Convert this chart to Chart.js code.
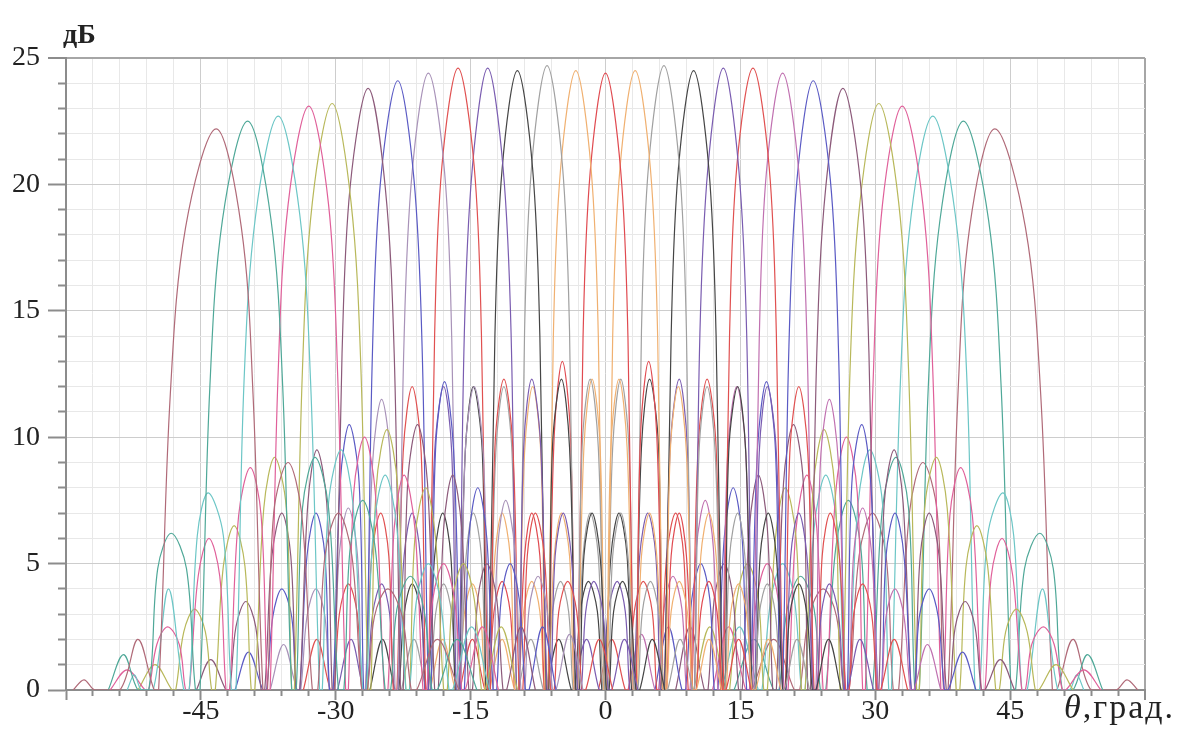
<!DOCTYPE html>
<html>
<head>
<meta charset="utf-8">
<script src="https://cdn.jsdelivr.net/npm/chart.js@4.4.1/dist/chart.umd.min.js"></script>
<style>
    html, body { margin: 0; padding: 0; background: #fff; }
    #wrap { position: relative; width: 1193px; height: 738px; }
    #graf { position: absolute; left: 0; top: 0; }
    .lbl { position: absolute; font-family: 'Liberation Serif', serif; color: #222; white-space: nowrap; }
</style>
</head>
<body>
<div id="wrap">
    <canvas id="graf" width="1193" height="738"></canvas>
    <div class="lbl" style="left:63px; top:18px; font-size:28px; font-weight:bold;">дБ</div>
    <div class="lbl" style="left:1064px; top:688px; font-size:34px; letter-spacing:2px;"><i>θ</i>,град.</div>
</div>
<script>
// diagram usmerjenosti - 27 zarkov, tocke [theta (grad), dB]
var beam01 = [[-59.2,0],[-58.0,0.4],[-56.8,0],[-54.0,0],[-52.0,2.0],[-50.2,0],[-49.7,0],[-48.4,11.7],[-46.7,18.3],[-43.3,22.2],[-40.5,18.3],[-39.2,11.7],[-38.1,0],[-37.6,0],[-36.9,7.0],[-35.3,9.0],[-33.8,7.0],[-32.6,0],[-32.0,0],[-31.2,5.3],[-29.7,7.0],[-28.2,5.3],[-27.1,0],[-26.5,0],[-25.7,2.9],[-24.2,4.0],[-22.6,2.9],[-21.6,0],[-21.0,0],[-18.7,2.0],[-16.3,0]];
var beam02 = [[-55.3,0],[-53.6,1.4],[-52.0,0],[-50.8,0],[-49.8,4.8],[-48.3,6.2],[-46.6,4.8],[-45.6,0],[-45.1,0],[-44.0,12.0],[-42.6,18.6],[-39.8,22.5],[-37.2,18.6],[-35.9,12.0],[-34.9,0],[-34.4,0],[-33.7,7.2],[-32.3,9.2],[-30.8,7.2],[-29.7,0],[-29.1,0],[-28.4,5.6],[-27.0,7.5],[-25.6,5.6],[-24.5,0],[-23.9,0],[-23.2,3.2],[-21.7,4.5],[-20.2,3.2],[-19.3,0],[-18.7,0],[-16.5,2.0],[-14.3,0]];
var beam03 = [[-53.2,0],[-52.4,0.6],[-51.6,0],[-50.3,0],[-48.6,4.0],[-46.9,0],[-46.3,0],[-45.4,6.1],[-44.2,7.8],[-42.5,6.1],[-41.6,0],[-41.1,0],[-40.2,12.2],[-38.9,18.8],[-36.4,22.7],[-34.0,18.8],[-32.8,12.2],[-31.8,0],[-31.5,0],[-30.8,7.4],[-29.4,9.5],[-28.1,7.4],[-27.0,0],[-26.6,0],[-25.8,6.4],[-24.5,8.5],[-23.2,6.4],[-22.2,0],[-21.8,0],[-21.0,3.6],[-19.7,5.0],[-18.4,3.6],[-17.4,0],[-17.0,0],[-14.9,2.5],[-12.9,0]];
var beam04 = [[-55.1,0],[-53.2,0.8],[-51.2,0],[-50.8,0],[-49.9,1.8],[-48.7,2.5],[-47.4,1.8],[-46.7,0],[-46.3,0],[-45.3,4.5],[-44.1,6.0],[-42.9,4.5],[-42.2,0],[-41.8,0],[-40.8,6.9],[-39.5,8.8],[-38.3,6.9],[-37.6,0],[-37.3,0],[-36.4,12.6],[-35.3,19.2],[-33.0,23.1],[-30.8,19.2],[-29.8,12.6],[-28.9,0],[-28.6,0],[-28.0,7.8],[-26.8,10.0],[-25.6,7.8],[-24.6,0],[-24.2,0],[-23.5,6.4],[-22.4,8.5],[-21.2,6.4],[-20.3,0],[-19.9,0],[-19.2,3.6],[-18.0,5.0],[-16.8,3.6],[-16.0,0],[-15.6,0],[-13.7,2.5],[-11.9,0]];
var beam05 = [[-52.0,0],[-50.1,1.0],[-48.2,0],[-47.8,0],[-46.9,2.3],[-45.7,3.2],[-44.5,2.3],[-43.8,0],[-43.4,0],[-42.5,4.9],[-41.3,6.5],[-40.1,4.9],[-39.4,0],[-39.0,0],[-38.0,7.2],[-36.8,9.2],[-35.5,7.2],[-34.9,0],[-34.6,0],[-33.7,12.7],[-32.6,19.3],[-30.4,23.2],[-28.3,19.3],[-27.2,12.7],[-26.4,0],[-26.1,0],[-25.5,8.0],[-24.3,10.3],[-23.1,8.0],[-22.2,0],[-21.8,0],[-21.2,6.0],[-20.0,8.0],[-18.9,6.0],[-18.0,0],[-17.6,0],[-17.0,3.6],[-15.8,5.0],[-14.6,3.6],[-13.8,0],[-13.4,0],[-11.6,2.5],[-9.8,0]];
var beam06 = [[-45.5,0],[-43.9,1.2],[-42.2,0],[-41.8,0],[-41.1,2.5],[-40.0,3.5],[-38.9,2.5],[-38.3,0],[-37.9,0],[-37.1,5.3],[-36.0,7.0],[-35.0,5.3],[-34.4,0],[-34.0,0],[-33.1,7.4],[-32.1,9.5],[-31.0,7.4],[-30.4,0],[-30.1,0],[-29.3,13.3],[-28.4,19.9],[-26.4,23.8],[-24.5,19.9],[-23.5,13.3],[-22.8,0],[-22.5,0],[-22.0,8.2],[-20.9,10.5],[-19.8,8.2],[-19.0,0],[-18.6,0],[-18.0,6.4],[-17.0,8.5],[-16.0,6.4],[-15.2,0],[-14.8,0],[-14.2,3.6],[-13.2,5.0],[-12.1,3.6],[-11.4,0],[-11.0,0],[-9.4,2.5],[-7.8,0]];
var beam07 = [[-41.2,0],[-39.7,1.5],[-38.1,0],[-37.7,0],[-37.0,2.9],[-36.0,4.0],[-34.9,2.9],[-34.4,0],[-34.0,0],[-33.2,5.3],[-32.2,7.0],[-31.2,5.3],[-30.7,0],[-30.3,0],[-29.5,8.2],[-28.5,10.5],[-27.4,8.2],[-26.9,0],[-26.6,0],[-25.9,13.6],[-25.0,20.2],[-23.1,24.1],[-21.3,20.2],[-20.4,13.6],[-19.7,0],[-19.4,0],[-18.9,9.5],[-17.9,12.2],[-16.9,9.5],[-16.1,0],[-15.7,0],[-15.2,6.0],[-14.2,8.0],[-13.2,6.0],[-12.5,0],[-12.1,0],[-11.6,3.6],[-10.6,5.0],[-9.6,3.6],[-8.9,0],[-8.5,0],[-7.0,2.5],[-5.5,0]];
var beam08 = [[-37.3,0],[-35.8,1.8],[-34.3,0],[-33.9,0],[-33.2,2.9],[-32.2,4.0],[-31.2,2.9],[-30.7,0],[-30.3,0],[-29.6,5.4],[-28.6,7.2],[-27.6,5.4],[-27.1,0],[-26.7,0],[-25.9,9.0],[-24.9,11.5],[-23.9,9.0],[-23.4,0],[-23.1,0],[-22.4,13.9],[-21.5,20.5],[-19.7,24.4],[-17.9,20.5],[-17.1,13.9],[-16.4,0],[-16.1,0],[-15.6,9.4],[-14.6,12.0],[-13.6,9.4],[-12.9,0],[-12.5,0],[-12.0,5.6],[-11.1,7.5],[-10.1,5.6],[-9.4,0],[-9.0,0],[-8.5,3.2],[-7.5,4.5],[-6.5,3.2],[-5.9,0],[-5.5,0],[-4.0,2.2],[-2.5,0]];
var beam09 = [[-33.6,0],[-32.1,2.0],[-30.6,0],[-30.2,0],[-29.6,3.0],[-28.6,4.2],[-27.6,3.0],[-27.1,0],[-26.7,0],[-26.0,5.3],[-25.0,7.0],[-24.1,5.3],[-23.6,0],[-23.2,0],[-22.5,9.4],[-21.5,12.0],[-20.5,9.4],[-20.0,0],[-19.7,0],[-19.0,14.1],[-18.2,20.7],[-16.4,24.6],[-14.6,20.7],[-13.8,14.1],[-13.1,0],[-12.8,0],[-12.3,9.6],[-11.3,12.3],[-10.3,9.6],[-9.6,0],[-9.2,0],[-8.7,5.3],[-7.8,7.0],[-6.8,5.3],[-6.1,0],[-5.7,0],[-5.2,3.1],[-4.2,4.3],[-3.2,3.1],[-2.6,0],[-2.2,0],[-0.7,2.0],[0.8,0]];
var beam10 = [[-29.8,0],[-28.3,2.0],[-26.9,0],[-26.5,0],[-25.9,3.0],[-24.9,4.2],[-24.0,3.0],[-23.5,0],[-23.1,0],[-22.4,5.3],[-21.5,7.0],[-20.6,5.3],[-20.1,0],[-19.7,0],[-19.0,9.4],[-18.0,12.0],[-17.1,9.4],[-16.6,0],[-16.3,0],[-15.7,14.1],[-14.8,20.7],[-13.1,24.6],[-11.4,20.7],[-10.5,14.1],[-9.9,0],[-9.6,0],[-9.1,9.6],[-8.2,12.3],[-7.2,9.6],[-6.5,0],[-6.1,0],[-5.6,5.3],[-4.7,7.0],[-3.8,5.3],[-3.1,0],[-2.7,0],[-2.2,3.1],[-1.3,4.3],[-0.3,3.1],[0.3,0],[0.7,0],[2.1,2.0],[3.6,0]];
var beam11 = [[-26.2,0],[-24.8,2.0],[-23.4,0],[-23.0,0],[-22.4,3.0],[-21.5,4.2],[-20.5,3.0],[-20.0,0],[-19.7,0],[-19.0,5.3],[-18.1,7.0],[-17.2,5.3],[-16.7,0],[-16.3,0],[-15.6,9.4],[-14.7,12.0],[-13.7,9.4],[-13.3,0],[-13.0,0],[-12.3,14.0],[-11.5,20.6],[-9.8,24.5],[-8.1,20.6],[-7.3,14.0],[-6.6,0],[-6.3,0],[-5.9,9.6],[-4.9,12.3],[-4.0,9.6],[-3.3,0],[-2.9,0],[-2.4,5.3],[-1.5,7.0],[-0.6,5.3],[0.1,0],[0.4,0],[0.9,3.1],[1.9,4.3],[2.8,3.1],[3.4,0],[3.8,0],[5.2,2.0],[6.6,0]];
var beam12 = [[-22.7,0],[-21.3,2.0],[-19.9,0],[-19.5,0],[-18.9,3.0],[-18.0,4.2],[-17.1,3.0],[-16.6,0],[-16.2,0],[-15.5,5.3],[-14.7,7.0],[-13.8,5.3],[-13.3,0],[-12.9,0],[-12.2,9.4],[-11.3,12.0],[-10.4,9.4],[-9.9,0],[-9.6,0],[-9.0,14.2],[-8.2,20.8],[-6.5,24.7],[-4.8,20.8],[-4.0,14.2],[-3.4,0],[-3.1,0],[-2.6,9.6],[-1.7,12.3],[-0.8,9.6],[-0.1,0],[0.3,0],[0.8,5.3],[1.7,7.0],[2.5,5.3],[3.2,0],[3.6,0],[4.1,3.1],[5.0,4.3],[5.9,3.1],[6.5,0],[6.9,0],[8.3,2.0],[9.7,0]];
var beam13 = [[-19.5,0],[-18.1,2.0],[-16.7,0],[-16.3,0],[-15.7,3.0],[-14.8,4.2],[-13.9,3.0],[-13.4,0],[-13.0,0],[-12.3,5.3],[-11.5,7.0],[-10.6,5.3],[-10.1,0],[-9.7,0],[-9.0,9.4],[-8.1,12.0],[-7.2,9.4],[-6.7,0],[-6.4,0],[-5.8,14.0],[-5.0,20.6],[-3.3,24.5],[-1.6,20.6],[-0.8,14.0],[-0.2,0],[0.1,0],[0.6,9.6],[1.5,12.3],[2.4,9.6],[3.1,0],[3.5,0],[4.0,5.3],[4.9,7.0],[5.7,5.3],[6.4,0],[6.8,0],[7.3,3.1],[8.2,4.3],[9.1,3.1],[9.7,0],[10.1,0],[11.5,2.0],[12.9,0]];
var beam14 = [[-16.2,0],[-14.8,2.0],[-13.4,0],[-13.0,0],[-12.4,3.1],[-11.5,4.3],[-10.6,3.1],[-10.1,0],[-9.7,0],[-9.0,5.3],[-8.2,7.0],[-7.3,5.3],[-6.8,0],[-6.4,0],[-5.7,10.1],[-4.8,13.0],[-3.9,10.1],[-3.4,0],[-3.1,0],[-2.5,13.9],[-1.7,20.5],[0.0,24.4],[1.7,20.5],[2.5,13.9],[3.1,0],[3.4,0],[3.9,10.1],[4.8,13.0],[5.7,10.1],[6.4,0],[6.8,0],[7.3,5.3],[8.2,7.0],[9.0,5.3],[9.7,0],[10.1,0],[10.6,3.1],[11.5,4.3],[12.4,3.1],[13.0,0],[13.4,0],[14.8,2.0],[16.2,0]];
var beam15 = [[-12.9,0],[-11.5,2.0],[-10.1,0],[-9.7,0],[-9.1,3.1],[-8.2,4.3],[-7.3,3.1],[-6.8,0],[-6.4,0],[-5.7,5.3],[-4.9,7.0],[-4.0,5.3],[-3.5,0],[-3.1,0],[-2.4,9.6],[-1.5,12.3],[-0.6,9.6],[-0.1,0],[0.2,0],[0.8,14.0],[1.6,20.6],[3.3,24.5],[5.0,20.6],[5.8,14.0],[6.4,0],[6.7,0],[7.2,9.4],[8.1,12.0],[9.0,9.4],[9.7,0],[10.1,0],[10.6,5.3],[11.5,7.0],[12.3,5.3],[13.0,0],[13.4,0],[13.9,3.0],[14.8,4.2],[15.7,3.0],[16.3,0],[16.7,0],[18.1,2.0],[19.5,0]];
var beam16 = [[-9.7,0],[-8.3,2.0],[-6.9,0],[-6.5,0],[-5.9,3.1],[-5.0,4.3],[-4.1,3.1],[-3.6,0],[-3.2,0],[-2.5,5.3],[-1.7,7.0],[-0.8,5.3],[-0.3,0],[0.1,0],[0.8,9.6],[1.7,12.3],[2.6,9.6],[3.1,0],[3.4,0],[4.0,14.2],[4.8,20.8],[6.5,24.7],[8.2,20.8],[9.0,14.2],[9.6,0],[9.9,0],[10.4,9.4],[11.3,12.0],[12.2,9.4],[12.9,0],[13.3,0],[13.8,5.3],[14.7,7.0],[15.5,5.3],[16.2,0],[16.6,0],[17.1,3.0],[18.0,4.2],[18.9,3.0],[19.5,0],[19.9,0],[21.3,2.0],[22.7,0]];
var beam17 = [[-6.6,0],[-5.2,2.0],[-3.8,0],[-3.4,0],[-2.8,3.1],[-1.9,4.3],[-0.9,3.1],[-0.4,0],[-0.1,0],[0.6,5.3],[1.5,7.0],[2.4,5.3],[2.9,0],[3.3,0],[4.0,9.6],[4.9,12.3],[5.9,9.6],[6.3,0],[6.6,0],[7.3,14.0],[8.1,20.6],[9.8,24.5],[11.5,20.6],[12.3,14.0],[13.0,0],[13.3,0],[13.7,9.4],[14.7,12.0],[15.6,9.4],[16.3,0],[16.7,0],[17.2,5.3],[18.1,7.0],[19.0,5.3],[19.7,0],[20.0,0],[20.5,3.0],[21.5,4.2],[22.4,3.0],[23.0,0],[23.4,0],[24.8,2.0],[26.2,0]];
var beam18 = [[-3.6,0],[-2.1,2.0],[-0.7,0],[-0.3,0],[0.3,3.1],[1.3,4.3],[2.2,3.1],[2.7,0],[3.1,0],[3.8,5.3],[4.7,7.0],[5.6,5.3],[6.1,0],[6.5,0],[7.2,9.6],[8.2,12.3],[9.1,9.6],[9.6,0],[9.9,0],[10.5,14.1],[11.4,20.7],[13.1,24.6],[14.8,20.7],[15.7,14.1],[16.3,0],[16.6,0],[17.1,9.4],[18.0,12.0],[19.0,9.4],[19.7,0],[20.1,0],[20.6,5.3],[21.5,7.0],[22.4,5.3],[23.1,0],[23.5,0],[24.0,3.0],[24.9,4.2],[25.9,3.0],[26.5,0],[26.9,0],[28.3,2.0],[29.8,0]];
var beam19 = [[-0.8,0],[0.7,2.0],[2.2,0],[2.6,0],[3.2,3.1],[4.2,4.3],[5.2,3.1],[5.7,0],[6.1,0],[6.8,5.3],[7.8,7.0],[8.7,5.3],[9.2,0],[9.6,0],[10.3,9.6],[11.3,12.3],[12.3,9.6],[12.8,0],[13.1,0],[13.8,14.1],[14.6,20.7],[16.4,24.6],[18.2,20.7],[19.0,14.1],[19.7,0],[20.0,0],[20.5,9.4],[21.5,12.0],[22.5,9.4],[23.2,0],[23.6,0],[24.1,5.3],[25.0,7.0],[26.0,5.3],[26.7,0],[27.1,0],[27.6,3.0],[28.6,4.2],[29.6,3.0],[30.2,0],[30.6,0],[32.1,2.0],[33.6,0]];
var beam20 = [[2.5,0],[4.0,2.2],[5.5,0],[5.9,0],[6.5,3.2],[7.5,4.5],[8.5,3.2],[9.0,0],[9.4,0],[10.1,5.6],[11.1,7.5],[12.0,5.6],[12.5,0],[12.9,0],[13.6,9.4],[14.6,12.0],[15.6,9.4],[16.1,0],[16.4,0],[17.1,13.9],[17.9,20.5],[19.7,24.4],[21.5,20.5],[22.4,13.9],[23.1,0],[23.4,0],[23.9,9.0],[24.9,11.5],[25.9,9.0],[26.7,0],[27.1,0],[27.6,5.4],[28.6,7.2],[29.6,5.4],[30.3,0],[30.7,0],[31.2,2.9],[32.2,4.0],[33.2,2.9],[33.9,0],[34.3,0],[35.8,1.8],[37.3,0]];
var beam21 = [[5.5,0],[7.0,2.5],[8.5,0],[8.9,0],[9.6,3.6],[10.6,5.0],[11.6,3.6],[12.1,0],[12.5,0],[13.2,6.0],[14.2,8.0],[15.2,6.0],[15.7,0],[16.1,0],[16.9,9.5],[17.9,12.2],[18.9,9.5],[19.4,0],[19.7,0],[20.4,13.6],[21.3,20.2],[23.1,24.1],[25.0,20.2],[25.9,13.6],[26.6,0],[26.9,0],[27.4,8.2],[28.5,10.5],[29.5,8.2],[30.3,0],[30.7,0],[31.2,5.3],[32.2,7.0],[33.2,5.3],[34.0,0],[34.4,0],[34.9,2.9],[36.0,4.0],[37.0,2.9],[37.7,0],[38.1,0],[39.7,1.5],[41.2,0]];
var beam22 = [[7.8,0],[9.4,2.5],[11.0,0],[11.4,0],[12.1,3.6],[13.2,5.0],[14.2,3.6],[14.8,0],[15.2,0],[16.0,6.4],[17.0,8.5],[18.0,6.4],[18.6,0],[19.0,0],[19.8,8.2],[20.9,10.5],[22.0,8.2],[22.5,0],[22.8,0],[23.5,13.3],[24.5,19.9],[26.4,23.8],[28.4,19.9],[29.3,13.3],[30.1,0],[30.4,0],[31.0,7.4],[32.1,9.5],[33.1,7.4],[34.0,0],[34.4,0],[35.0,5.3],[36.0,7.0],[37.1,5.3],[37.9,0],[38.3,0],[38.9,2.5],[40.0,3.5],[41.1,2.5],[41.8,0],[42.2,0],[43.9,1.2],[45.5,0]];
var beam23 = [[9.8,0],[11.6,2.5],[13.4,0],[13.8,0],[14.6,3.6],[15.8,5.0],[17.0,3.6],[17.6,0],[18.0,0],[18.9,6.0],[20.0,8.0],[21.2,6.0],[21.8,0],[22.2,0],[23.1,8.0],[24.3,10.3],[25.5,8.0],[26.1,0],[26.4,0],[27.2,12.7],[28.3,19.3],[30.4,23.2],[32.6,19.3],[33.7,12.7],[34.6,0],[34.9,0],[35.5,7.2],[36.8,9.2],[38.0,7.2],[39.0,0],[39.4,0],[40.1,4.9],[41.3,6.5],[42.5,4.9],[43.4,0],[43.8,0],[44.5,2.3],[45.7,3.2],[46.9,2.3],[47.8,0],[48.2,0],[50.1,1.0],[52.0,0]];
var beam24 = [[11.9,0],[13.7,2.5],[15.6,0],[16.0,0],[16.8,3.6],[18.0,5.0],[19.2,3.6],[19.9,0],[20.3,0],[21.2,6.4],[22.4,8.5],[23.5,6.4],[24.2,0],[24.6,0],[25.6,7.8],[26.8,10.0],[28.0,7.8],[28.6,0],[28.9,0],[29.8,12.6],[30.8,19.2],[33.0,23.1],[35.3,19.2],[36.4,12.6],[37.3,0],[37.6,0],[38.3,6.9],[39.5,8.8],[40.8,6.9],[41.8,0],[42.2,0],[42.9,4.5],[44.1,6.0],[45.3,4.5],[46.3,0],[46.7,0],[47.4,1.8],[48.7,2.5],[49.9,1.8],[50.8,0],[51.2,0],[53.2,0.8],[55.1,0]];
var beam25 = [[12.9,0],[14.9,2.5],[17.0,0],[17.4,0],[18.4,3.6],[19.7,5.0],[21.0,3.6],[21.8,0],[22.2,0],[23.2,6.4],[24.5,8.5],[25.8,6.4],[26.6,0],[27.0,0],[28.1,7.4],[29.4,9.5],[30.8,7.4],[31.5,0],[31.8,0],[32.8,12.2],[34.0,18.8],[36.4,22.7],[38.9,18.8],[40.2,12.2],[41.1,0],[41.6,0],[42.5,6.1],[44.2,7.8],[45.4,6.1],[46.3,0],[46.9,0],[48.6,4.0],[50.3,0],[51.6,0],[52.4,0.6],[53.2,0]];
var beam26 = [[14.3,0],[16.5,2.0],[18.7,0],[19.3,0],[20.2,3.2],[21.7,4.5],[23.2,3.2],[23.9,0],[24.5,0],[25.6,5.6],[27.0,7.5],[28.4,5.6],[29.1,0],[29.7,0],[30.8,7.2],[32.3,9.2],[33.7,7.2],[34.4,0],[34.9,0],[35.9,12.0],[37.2,18.6],[39.8,22.5],[42.6,18.6],[44.0,12.0],[45.1,0],[45.6,0],[46.6,4.8],[48.3,6.2],[49.8,4.8],[50.8,0],[52.0,0],[53.6,1.4],[55.3,0]];
var beam27 = [[16.3,0],[18.7,2.0],[21.0,0],[21.6,0],[22.6,2.9],[24.2,4.0],[25.7,2.9],[26.5,0],[27.1,0],[28.2,5.3],[29.7,7.0],[31.2,5.3],[32.0,0],[32.6,0],[33.8,7.0],[35.3,9.0],[36.9,7.0],[37.6,0],[38.1,0],[39.2,11.7],[40.5,18.3],[43.3,22.2],[46.7,18.3],[48.4,11.7],[49.7,0],[50.2,0],[52.0,2.0],[54.0,0],[56.8,0],[58.0,0.4],[59.2,0]];

var beams = [beam01, beam02, beam03, beam04, beam05, beam06, beam07, beam08, beam09, beam10, beam11, beam12, beam13, beam14,
             beam15, beam16, beam17, beam18, beam19, beam20, beam21, beam22, beam23, beam24, beam25, beam26, beam27];

var beamColors = ['#b06a78', '#4fa898', '#6cc6c6', '#e0609a', '#b8b85a', '#8c5a7a', '#5a5ac4', '#a892b8', '#e05050',
                  '#7a5cb0', '#454545', '#a0a0a0', '#f0b070', '#e04a50', '#f0b070', '#a0a0a0', '#454545', '#7a5cb0',
                  '#e05050', '#c070b0', '#5a5ac4', '#8c5a7a', '#b8b85a', '#e0609a', '#6cc6c6', '#4fa898', '#b06a78'];

var xTickLabels = [-45, -30, -15, 0, 15, 30, 45];
var yTickLabels = [0, 5, 10, 15, 20, 25];

function narisi() {
    var datasets = beams.map(function (b, i) {
        return {
            data: b.map(function (p) { return {x: p[0], y: p[1]}; }),
            borderColor: beamColors[i],
            borderWidth: 1.2,
            pointRadius: 0,
            showLine: true,
            fill: false,
            tension: 0.35
        };
    });

    Chart.defaults.font.family = "'Liberation Serif', serif";
    Chart.defaults.color = '#222';

    var ctx = document.getElementById('graf').getContext('2d');
    new Chart(ctx, {
        type: 'scatter',
        data: { datasets: datasets },
        options: {
            responsive: false,
            animation: false,
            layout: { padding: { top: 58, right: 48, left: 0, bottom: 0 } },
            plugins: { legend: { display: false }, tooltip: { enabled: false } },
            scales: {
                x: {
                    type: 'linear', min: -60, max: 60,
                    afterFit: function (s) { s.height = 48; },
                    border: { color: '#8c8c8c', width: 2 },
                    grid: {
                        color: function (c) {
                            if (!c.tick) return '#e6e6e6';
                            if (c.tick.value === 60) return '#a6a6a6';
                            return c.tick.value % 15 === 0 ? '#cdcdcd' : '#e8e8e8';
                        },
                        lineWidth: function (c) { return c.tick && c.tick.value === 60 ? 2 : 1; },
                        tickLength: 10,
                        tickColor: '#8c8c8c',
                        tickWidth: 2,
                        tickBorderDash: function (c) { return c.tick && c.tick.value % 15 === 0 ? [] : [5, 100]; }
                    },
                    ticks: {
                        stepSize: 3, autoSkip: false, maxRotation: 0, padding: -5,
                        font: { size: 28 },
                        callback: function (v) { return xTickLabels.indexOf(v) >= 0 ? String(v) : ''; }
                    }
                },
                y: {
                    min: 0, max: 25,
                    afterFit: function (s) { s.width = 66; },
                    border: { color: '#8c8c8c', width: 2 },
                    grid: {
                        color: function (c) {
                            if (!c.tick) return '#e6e6e6';
                            if (c.tick.value === 25) return '#a6a6a6';
                            return c.tick.value % 5 === 0 ? '#cdcdcd' : '#e8e8e8';
                        },
                        lineWidth: function (c) { return c.tick && c.tick.value === 25 ? 2 : 1; },
                        tickLength: 18,
                        tickColor: '#8c8c8c',
                        tickWidth: 2,
                        tickBorderDash: function (c) { return c.tick && c.tick.value % 5 === 0 ? [] : [0, 10, 8, 100]; }
                    },
                    ticks: {
                        stepSize: 1, autoSkip: false, padding: 8,
                        font: { size: 28 },
                        callback: function (v) { return yTickLabels.indexOf(v) >= 0 ? String(v) : ''; }
                    }
                }
            }
        }
    });
}

narisi();
</script>
</body>
</html>
